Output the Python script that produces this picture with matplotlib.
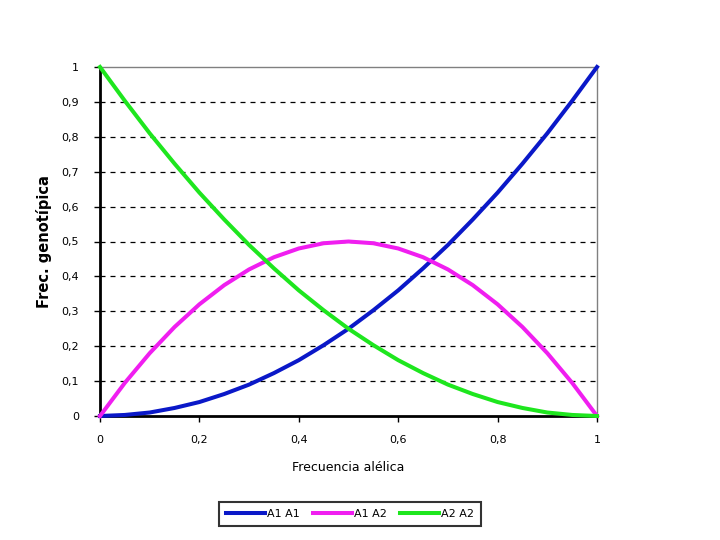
import matplotlib
matplotlib.use("Agg")
import matplotlib.pyplot as plt
import numpy as np

# frecuencia alelica (p) and genotype frequencies
p = [0, 0.05, 0.1, 0.15, 0.2, 0.25, 0.3, 0.35, 0.4, 0.45, 0.5,
     0.55, 0.6, 0.65, 0.7, 0.75, 0.8, 0.85, 0.9, 0.95, 1]
a1a1 = [0, 0.003, 0.01, 0.023, 0.04, 0.063, 0.09, 0.123, 0.16, 0.203, 0.25,
        0.303, 0.36, 0.423, 0.49, 0.563, 0.64, 0.723, 0.81, 0.903, 1.0]
a1a2 = [0, 0.095, 0.18, 0.255, 0.32, 0.375, 0.42, 0.455, 0.48, 0.495, 0.5,
        0.495, 0.48, 0.455, 0.42, 0.375, 0.32, 0.255, 0.18, 0.095, 0]
a2a2 = [1.0, 0.903, 0.81, 0.723, 0.64, 0.563, 0.49, 0.423, 0.36, 0.303, 0.25,
        0.203, 0.16, 0.123, 0.09, 0.063, 0.04, 0.023, 0.01, 0.003, 0]

series = [("A1A1", a1a1, "#0a18c8"), ("A1A2", a1a2, "#f01ef0"), ("A2A2", a2a2, "#1ee61e")]
legend_labels = ["A1 A1", "A1 A2", "A2 A2"]

yticks = np.round(np.arange(0, 1.01, 0.1), 1)
xticks = np.round(np.arange(0, 1.01, 0.2), 1)

def fmt(v):
    if v in (0, 1):
        return "%d" % v
    return ("%.1f" % v).replace(".", ",")

fig = plt.figure(figsize=(7.2, 5.4), dpi=100)
ax = fig.add_axes([100/720, 1-416/540, 497/720, 349/540])

for y in yticks[1:-1]:
    ax.axhline(y, color="black", lw=0.9, ls=(0, (4, 4)), zorder=1)

lines = []
for (name, vals, col), lab in zip(series, legend_labels):
    l, = ax.plot(p, vals, color=col, lw=2.9, label=lab, zorder=3, clip_on=False)
    lines.append(l)

ax.set_xlim(0, 1)
ax.set_ylim(0, 1)
ax.set_xticks(xticks)
ax.set_xticklabels([fmt(v) for v in xticks])
ax.set_yticks(yticks)
ax.set_yticklabels([fmt(v) for v in yticks])
ax.tick_params(axis="y", direction="out", length=4, width=1, labelsize=8, pad=11)
ax.tick_params(axis="x", direction="out", length=4, width=1, labelsize=8, pad=10)

ax.spines["left"].set_linewidth(2)
ax.spines["bottom"].set_linewidth(2)
ax.spines["top"].set_color("#808080")
ax.spines["right"].set_color("#808080")
ax.spines["top"].set_linewidth(1)
ax.spines["right"].set_linewidth(1)

ax.set_xlabel("Frecuencia alélica", fontsize=9)
ax.xaxis.set_label_coords(0.5, -0.13)
ax.set_ylabel("Frec. genotípica", fontsize=10.5, fontweight="bold")
ax.yaxis.set_label_coords(-0.097, 0.5)

leg = fig.legend(handles=lines, loc="center", bbox_to_anchor=(350/720, 1-514/540),
                 ncol=3, fontsize=8, frameon=True, fancybox=False, edgecolor="black",
                 handlelength=3.5, handletextpad=0.2, columnspacing=1.2, borderpad=0.6)
leg.get_frame().set_linewidth(1.5)

fig.savefig("out.png", dpi=100)
